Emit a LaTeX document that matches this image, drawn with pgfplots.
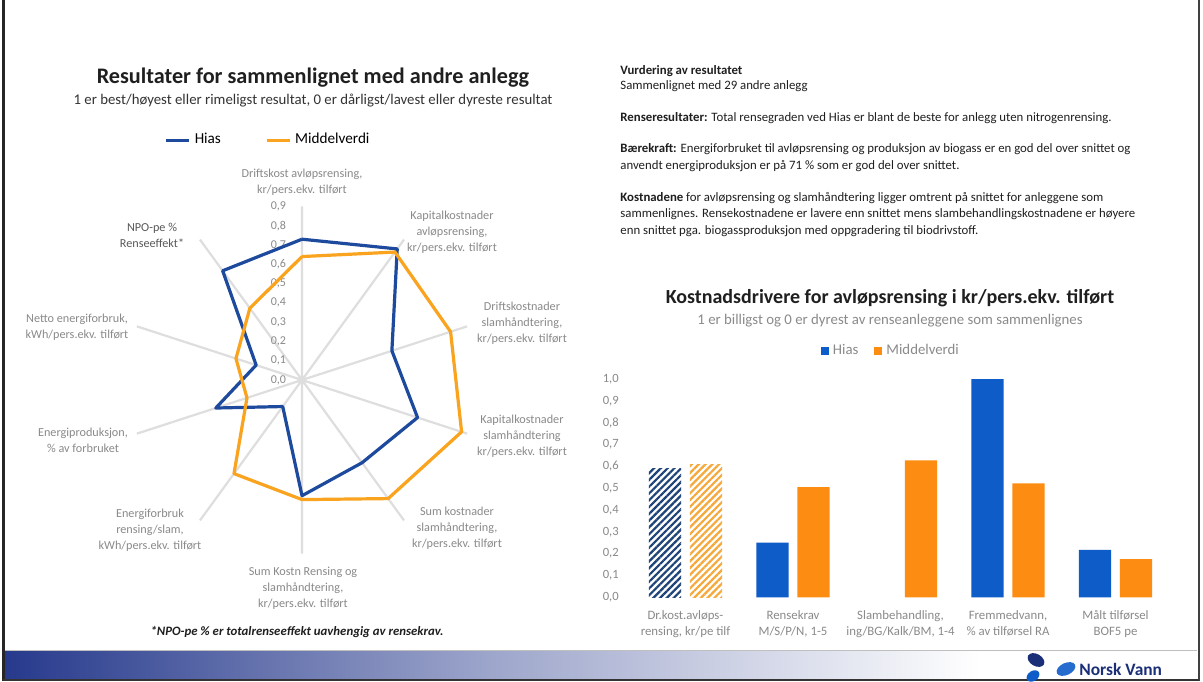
\documentclass[border=0pt]{standalone}
\usepackage{fontspec}
\setmainfont{Carlito}
\usepackage{pgfplots}
\pgfplotsset{compat=1.18}
\usepgfplotslibrary{polar}
\usetikzlibrary{patterns.meta}

\definecolor{hiasline}{HTML}{1D4A9C}
\definecolor{midline}{HTML}{F9A31E}
\definecolor{hiasbar}{HTML}{0E5CC8}
\definecolor{midbar}{HTML}{FD8C12}
\definecolor{hiashatch}{HTML}{1E4379}
\definecolor{midhatch}{HTML}{F6A93A}
\definecolor{spoke}{HTML}{DEDEDE}
\definecolor{labelgray}{HTML}{8A8A8A}
\definecolor{textdark}{HTML}{1F1F1F}
\definecolor{footblue}{HTML}{26398C}
\definecolor{logoblue}{HTML}{1A2F78}

\newcommand\fs[2]{\fontsize{#1pt}{#2pt}\selectfont}
\tikzset{radial label/.style={anchor=east, xshift=-4.5pt, text=labelgray, font=\fs{6}{7}}}

\begin{document}
\begin{tikzpicture}[x=0.5pt,y=0.5pt]
\path[use as bounding box, fill=white] (0,0) rectangle (1203,681);
\coordinate (radarC) at (302,301);
\coordinate (barSW) at (631.75,83.7);

% ---------- footer band and frame ----------
\shade[left color=footblue, right color=white, middle color=footblue!45] (4,3) rectangle (980,30);
\draw[black!25, line width=0.4pt] (4,31) -- (1197,31);
\draw[black!85, line width=1.5pt] (3,0) -- (3,681);
\draw[black!75, line width=1pt] (1198.5,0) -- (1198.5,681);
\draw[black!80, line width=1pt] (3,1.5) -- (1198.5,1.5);

% logo
\fill[logoblue, rotate around={-30:(1036,21)}] (1036,21) ellipse (9 and 6);
\fill[hiasbar!90, rotate around={25:(1066,12)}] (1066,12) ellipse (10 and 6);
\fill[hiasbar, rotate around={35:(1033,5)}] (1033,5) ellipse (7 and 5);
\node[anchor=west, inner sep=0pt, text=logoblue, font=\fs{8.7}{10}\bfseries] at (1079,12) {Norsk Vann};

% ---------- left panel: radar ----------
\node[text=textdark, font=\fs{11.1}{13}\bfseries] at (313,603) {Resultater for sammenlignet med andre anlegg};
\node[text=black!80, font=\fs{7.4}{9}] at (313,580) {1 er best/høyest eller rimeligst resultat, 0 er dårligst/lavest eller dyreste resultat};

\begin{polaraxis}[
  at={(radarC)}, anchor=center,
  scale only axis, width=173.6pt, height=173.6pt,
  xmin=0, xmax=360, ymin=0, ymax=0.9,
  xtick={18,54,90,126,162,198,234,270,306,342},
  xticklabels={},
  ytick={0,0.1,0.2,0.3,0.4,0.5,0.6,0.7,0.8,0.9},
  yticklabels={},
  xmajorgrids=true, ymajorgrids=false,
  major x grid style={draw=spoke, line width=1.1pt},
  axis line style={draw=none},
  major tick length=0pt,
  clip=false,
  legend style={at={(0.405,1.191)}, anchor=center, draw=none, fill=none,
    font=\fs{7.6}{9}, legend columns=2,
    /tikz/every even column/.append style={column sep=20pt}},
  legend image code/.code={\draw[#1, line width=1.6pt] (0pt,0pt) -- (11.5pt,0pt);},
]
% radial scale labels
\node[radial label] at (axis cs:90,0) {0,0};
\node[radial label] at (axis cs:90,0.1) {0,1};
\node[radial label] at (axis cs:90,0.2) {0,2};
\node[radial label] at (axis cs:90,0.3) {0,3};
\node[radial label] at (axis cs:90,0.4) {0,4};
\node[radial label] at (axis cs:90,0.5) {0,5};
\node[radial label] at (axis cs:90,0.6) {0,6};
\node[radial label] at (axis cs:90,0.7) {0,7};
\node[radial label] at (axis cs:90,0.8) {0,8};
\node[radial label] at (axis cs:90,0.9) {0,9};
\addplot[hiasline, line width=1.6pt, line join=round, no markers] coordinates {
  (90,0.73) (54,0.84) (18,0.49) (342,0.63) (306,0.53) (270,0.60)
  (234,0.17) (198,0.47) (162,0.25) (126,0.70) (90,0.73)};
\addlegendentry{Hias}
\addplot[midline, line width=1.6pt, line join=round, no markers] coordinates {
  (90,0.64) (54,0.82) (18,0.81) (342,0.87) (306,0.76) (270,0.62)
  (234,0.60) (198,0.30) (162,0.36) (126,0.46) (90,0.64)};
\addlegendentry{Middelverdi}
\end{polaraxis}

% spoke labels
\begin{scope}[every node/.style={align=center, text=labelgray, font=\fs{6.1}{8}, inner sep=0pt}]
\node at (302,499) {Driftskost avløpsrensing,\\kr/pers.ekv. tilført};
\node at (452,449) {Kapitalkostnader\\avløpsrensing,\\kr/pers.ekv. tilført};
\node at (522,358) {Driftskostnader\\slamhåndtering,\\kr/pers.ekv. tilført};
\node at (522,245) {Kapitalkostnader\\slamhåndtering\\kr/pers.ekv. tilført};
\node at (457,153) {Sum kostnader\\slamhåndtering,\\kr/pers.ekv. tilført};
\node at (303,93) {Sum Kostn Rensing og\\slamhåndtering,\\kr/pers.ekv. tilført};
\node at (150,151) {Energiforbruk\\rensing/slam,\\kWh/pers.ekv. tilført};
\node at (83,241) {Energiproduksjon,\\\% av forbruket};
\node at (77,354) {Netto energiforbruk,\\kWh/pers.ekv. tilført};
\node[text=black!65] at (152,446) {NPO-pe \%\\Renseeffekt*};
\end{scope}

\node[text=textdark, font=\fs{6.4}{8}\bfseries\itshape] at (297,49) {*NPO-pe \% er totalrenseeffekt uavhengig av rensekrav.};

% ---------- right panel: assessment text ----------
\begin{scope}[every node/.style={anchor=base west, inner sep=0pt, text=textdark, font=\fs{6.4}{7.5}}]
\node at (620,606.3) {\textbf{Vurdering av resultatet}};
\node at (620,591.3) {Sammenlignet med 29 andre anlegg};
\node at (620,559.3) {\textbf{Renseresultater:} Total rensegraden ved Hias er blant de beste for anlegg uten nitrogenrensing.};
\node at (620,528.3) {\textbf{Bærekraft:} Energiforbruket til avløpsrensing og produksjon av biogass er en god del over snittet og};
\node at (620,511.3) {anvendt energiproduksjon er på 71 \% som er god del over snittet.};
\node at (620,479.3) {\textbf{Kostnadene} for avløpsrensing og slamhåndtering ligger omtrent på snittet for anleggene som};
\node at (620,463.3) {sammenlignes. Rensekostnadene er lavere enn snittet mens slambehandlingskostnadene er høyere};
\node at (620,446.3) {enn snittet pga. biogassproduksjon med oppgradering til biodrivstoff.};
\end{scope}

% ---------- right panel: bar chart ----------
\node[text=textdark, font=\fs{10}{12}\bfseries] at (890,383) {Kostnadsdrivere for avløpsrensing i kr/pers.ekv. tilført};
\node[text=labelgray, font=\fs{7.4}{9}] at (890,360) {1 er billigst og 0 er dyrest av renseanleggene som sammenlignes};

\begin{axis}[
  at={(barSW)}, anchor=south west,
  scale only axis, width=268.75pt, height=109.15pt,
  xmin=-0.5, xmax=4.5, ymin=0, ymax=1,
  axis line style={draw=none},
  major tick length=0pt,
  clip=false,
  ytick={0,0.1,0.2,0.3,0.4,0.5,0.6,0.7,0.8,0.9,1},
  yticklabel style={text=labelgray, font=\fs{6.3}{7},
    /pgf/number format/.cd, use comma, fixed, fixed zerofill, precision=1, assume math mode=true},
  yticklabel shift=3pt,
  xtick={0,1,2,3,4},
  xticklabels={{Dr.kost.avløps-\\rensing, kr/pe tilf},{Rensekrav\\M/S/P/N, 1-5},{Slambehandling,\\ing/BG/Kalk/BM, 1-4},{Fremmedvann,\\\% av tilførsel RA},{Målt tilførsel\\BOF5 pe}},
  xticklabel style={align=center, text=labelgray, font=\fs{6.4}{8}},
  xticklabel shift=3pt,
  legend style={at={(0.484,1.128)}, anchor=center, draw=none, fill=none,
    legend columns=2, font=\fs{7.4}{8}, text=labelgray,
    /tikz/every even column/.append style={column sep=6pt}},
  legend image code/.code={\fill[#1] (0pt,-2pt) rectangle (4pt,2pt);},
]
\addplot[ybar, bar width=0.30, bar shift=-0.19, fill=hiasbar, draw=none]
  coordinates {(1,0.25) (3,1.00) (4,0.217)};
\addlegendentry{Hias}
\addplot[ybar, bar width=0.30, bar shift=0.19, fill=midbar, draw=none]
  coordinates {(1,0.505) (2,0.627) (3,0.522) (4,0.175)};
\addlegendentry{Middelverdi}
\addplot[ybar, bar width=0.30, bar shift=-0.19, draw=none, forget plot,
  pattern={Lines[angle=45,distance=2.4pt,line width=1.1pt]}, pattern color=hiashatch]
  coordinates {(0,0.588)};
\addplot[ybar, bar width=0.30, bar shift=0.19, draw=none, forget plot,
  pattern={Lines[angle=45,distance=2.4pt,line width=1.1pt]}, pattern color=midhatch]
  coordinates {(0,0.609)};
\end{axis}
\end{tikzpicture}
\end{document}
